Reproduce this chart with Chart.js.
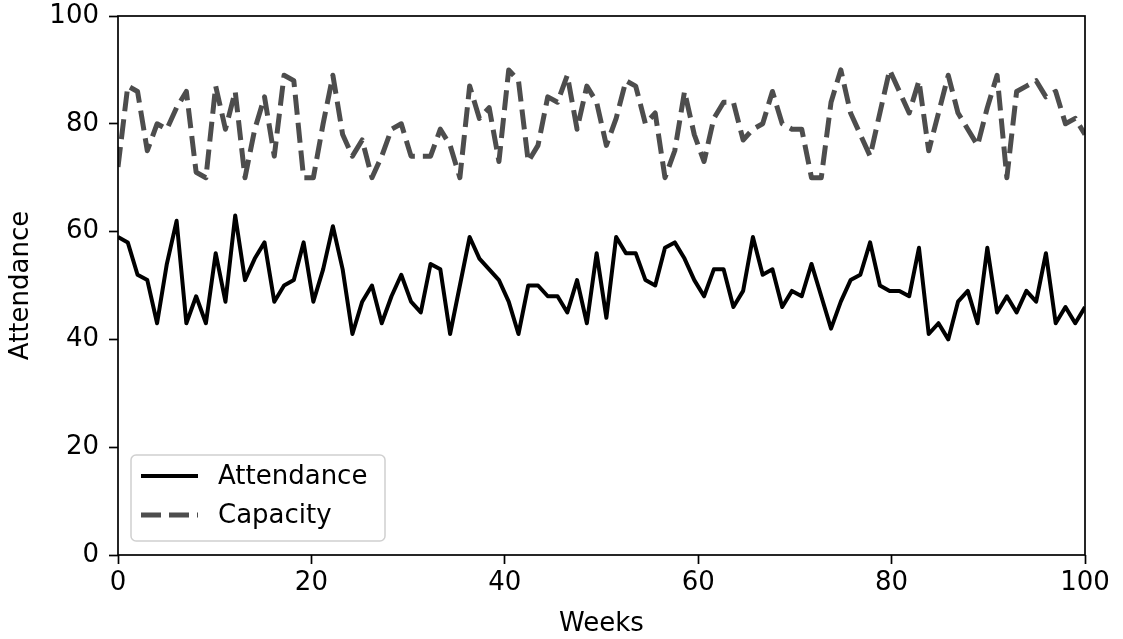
<html>
<head>
<script src="https://cdn.jsdelivr.net/npm/chart.js@4.4.1/dist/chart.umd.min.js"></script>
<style>
  body { margin: 0; background: #fff; }
  #wrap { width: 1123px; height: 639px; }
</style>
</head>
<body>
<div id="wrap"><canvas id="myChart"></canvas></div>
<script>
const attendance = [
  59, 58, 52, 51, 43, 54, 62, 43, 48, 43,
  56, 47, 63, 51, 55, 58, 47, 50, 51, 58,
  47, 53, 61, 53, 41, 47, 50, 43, 48, 52,
  47, 45, 54, 53, 41, 50, 59, 55, 53, 51,
  47, 41, 50, 50, 48, 48, 45, 51, 43, 56,
  44, 59, 56, 56, 51, 50, 57, 58, 55, 51,
  48, 53, 53, 46, 49, 59, 52, 53, 46, 49,
  48, 54, 48, 42, 47, 51, 52, 58, 50, 49,
  49, 48, 57, 41, 43, 40, 47, 49, 43, 57,
  45, 48, 45, 49, 47, 56, 43, 46, 43, 46
];
const capacity = [
  72, 87, 86, 75, 80, 79, 83, 86, 71, 70,
  87, 79, 86, 70, 79, 85, 74, 89, 88, 70,
  70, 80, 89, 78, 74, 77, 70, 74, 79, 80,
  74, 74, 74, 79, 76, 70, 87, 81, 83, 73,
  90, 88, 73, 76, 85, 84, 89, 79, 87, 84,
  76, 81, 88, 87, 80, 82, 70, 75, 86, 78,
  73, 81, 84, 84, 77, 79, 80, 86, 80, 79,
  79, 70, 70, 84, 90, 82, 78, 74, 82, 90,
  86, 82, 88, 75, 82, 89, 82, 79, 76, 83,
  89, 70, 86, 87, 88, 85, 86, 80, 81, 78
];
// 100 samples spread evenly over weeks 0..100
const weeks = attendance.map((_, i) => i * 100 / (attendance.length - 1));
const xTicks = [0, 20, 40, 60, 80, 100];
const yTicks = [0, 20, 40, 60, 80, 100];
const seriesNames = ['Attendance', 'Capacity'];

const FONT = "'DejaVu Sans'";
const FSIZE = 26;
const capColor = '#4d4d4d';

const frame = {
  id: 'frame',
  afterDatasetsDraw(chart) {
    const a = chart.chartArea;
    const ctx = chart.ctx;
    ctx.save();
    ctx.strokeStyle = '#000';
    ctx.lineWidth = 1.7;
    ctx.strokeRect(a.left, a.top, a.right - a.left, a.bottom - a.top);

    // legend box, lower left inside the axes
    const x = a.left + 13, y = a.bottom - 100, w = 254, h = 86;
    ctx.fillStyle = 'rgba(255,255,255,0.8)';
    ctx.strokeStyle = '#d0d0d0';
    ctx.lineWidth = 1.5;
    ctx.beginPath();
    ctx.roundRect(x, y, w, h, 5);
    ctx.fill();
    ctx.stroke();

    const rows = [
      { label: seriesNames[0], color: '#000', width: 4, dash: [] },
      { label: seriesNames[1], color: capColor, width: 5, dash: [20, 8] }
    ];
    ctx.font = FSIZE + 'px ' + FONT;
    ctx.textBaseline = 'middle';
    rows.forEach((r, k) => {
      const cy = y + 21 + k * 39;
      ctx.beginPath();
      ctx.setLineDash(r.dash);
      ctx.strokeStyle = r.color;
      ctx.lineWidth = r.width;
      ctx.lineCap = 'butt';
      ctx.moveTo(x + 10, cy);
      ctx.lineTo(x + 67, cy);
      ctx.stroke();
      ctx.setLineDash([]);
      ctx.fillStyle = '#000';
      ctx.fillText(r.label, x + 87, cy + 1);
    });
    ctx.restore();
  }
};

const data = {
  datasets: [
    {
      label: seriesNames[0],
      data: weeks.map((w, i) => ({ x: w, y: attendance[i] })),
      borderColor: '#000',
      borderWidth: 4,
      borderJoinStyle: 'round',
      pointRadius: 0,
      tension: 0,
      fill: false
    },
    {
      label: seriesNames[1],
      data: weeks.map((w, i) => ({ x: w, y: capacity[i] })),
      borderColor: capColor,
      borderWidth: 5,
      borderDash: [20, 8],
      borderJoinStyle: 'round',
      pointRadius: 0,
      tension: 0,
      fill: false
    }
  ]
};

const config = {
  type: 'line',
  data: data,
  options: {
    responsive: true,
    maintainAspectRatio: false,
    animation: false,
    layout: { padding: { left: 0, right: 38, top: 16, bottom: 0 } },
    plugins: {
      legend: { display: false },
      tooltip: { enabled: false }
    },
    scales: {
      x: {
        type: 'linear',
        min: 0,
        max: 100,
        afterBuildTicks: (s) => { s.ticks = xTicks.map(v => ({ value: v })); },
        afterFit: (s) => { s.height = 84; s.paddingLeft = 0; s.paddingRight = 0; },
        grid: { drawOnChartArea: false, tickLength: 9, tickWidth: 1.7, tickColor: '#000' },
        border: { display: false },
        ticks: { color: '#000', font: { family: FONT, size: FSIZE }, padding: 4, maxRotation: 0 },
        title: { display: true, text: 'Weeks', color: '#000', font: { family: FONT, size: FSIZE }, padding: { top: 0, bottom: -1 } }
      },
      y: {
        min: 0,
        max: 100,
        afterBuildTicks: (s) => { s.ticks = yTicks.map(v => ({ value: v })); },
        afterFit: (s) => { s.width = 118; s.paddingTop = 0; s.paddingBottom = 0; },
        grid: { drawOnChartArea: false, tickLength: 9, tickWidth: 1.7, tickColor: '#000' },
        border: { display: false },
        ticks: { color: '#000', font: { family: FONT, size: FSIZE }, padding: 10 },
        title: { display: true, text: 'Attendance', color: '#000', font: { family: FONT, size: FSIZE }, padding: { top: 6, bottom: 0 } }
      }
    }
  },
  plugins: [frame]
};

var ctx = document.getElementById('myChart').getContext('2d');
var myChart = new Chart(ctx, config);
</script>
</body>
</html>
